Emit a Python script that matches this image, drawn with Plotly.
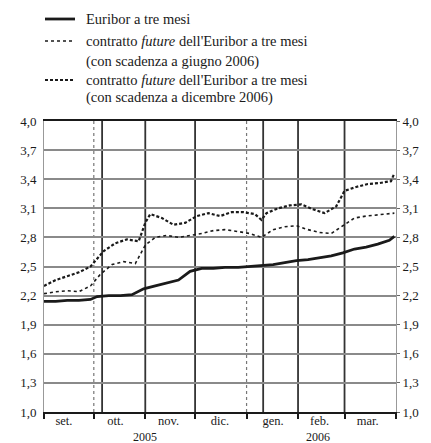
import plotly.graph_objects as go

# Euribor a tre mesi
euribor_dates = ['2005-09-01', '2005-09-08', '2005-09-15', '2005-09-22', '2005-09-29',
                 '2005-10-03', '2005-10-10', '2005-10-17', '2005-10-24', '2005-10-31',
                 '2005-11-07', '2005-11-14', '2005-11-21', '2005-11-28', '2005-12-05',
                 '2005-12-12', '2005-12-19', '2005-12-27', '2006-01-03', '2006-01-10',
                 '2006-01-17', '2006-01-24', '2006-01-31', '2006-02-07', '2006-02-14',
                 '2006-02-21', '2006-02-28', '2006-03-07', '2006-03-14', '2006-03-21',
                 '2006-03-28', '2006-03-31']
euribor_values = [2.14, 2.14, 2.15, 2.15, 2.16,
                  2.19, 2.20, 2.20, 2.21, 2.27,
                  2.30, 2.33, 2.36, 2.45, 2.48,
                  2.48, 2.49, 2.49, 2.50, 2.51,
                  2.52, 2.54, 2.56, 2.57, 2.59,
                  2.61, 2.64, 2.68, 2.70, 2.73,
                  2.77, 2.81]

# future con scadenza giugno 2006
jun_dates = ['2005-09-01', '2005-09-08', '2005-09-15', '2005-09-22', '2005-09-29',
             '2005-10-05', '2005-10-12', '2005-10-19', '2005-10-26', '2005-11-01',
             '2005-11-07', '2005-11-14', '2005-11-21', '2005-11-28', '2005-12-05',
             '2005-12-12', '2005-12-19', '2005-12-27', '2006-01-03', '2006-01-10',
             '2006-01-17', '2006-01-24', '2006-01-31', '2006-02-07', '2006-02-14',
             '2006-02-21', '2006-02-28', '2006-03-07', '2006-03-14', '2006-03-21',
             '2006-03-31']
jun_values = [2.22, 2.24, 2.25, 2.24, 2.30,
              2.42, 2.52, 2.55, 2.53, 2.72,
              2.80, 2.82, 2.80, 2.82, 2.84,
              2.87, 2.88, 2.86, 2.84, 2.80,
              2.88, 2.91, 2.92, 2.88, 2.85,
              2.84, 2.92, 3.00, 3.02, 3.03,
              3.05]

# future con scadenza dicembre 2006
dec_dates = ['2005-09-01', '2005-09-08', '2005-09-15', '2005-09-22', '2005-09-29',
             '2005-10-03', '2005-10-07', '2005-10-14', '2005-10-21', '2005-10-28',
             '2005-11-01', '2005-11-04', '2005-11-11', '2005-11-18', '2005-11-25',
             '2005-12-02', '2005-12-09', '2005-12-16', '2005-12-23', '2005-12-30',
             '2006-01-06', '2006-01-10', '2006-01-13', '2006-01-20', '2006-01-27',
             '2006-02-03', '2006-02-10', '2006-02-17', '2006-02-24', '2006-03-01',
             '2006-03-08', '2006-03-15', '2006-03-22', '2006-03-29', '2006-03-31']
dec_values = [2.30, 2.36, 2.40, 2.44, 2.50,
              2.58, 2.66, 2.74, 2.78, 2.76,
              2.95, 3.04, 3.00, 2.93, 2.95,
              3.02, 3.05, 3.02, 3.06, 3.06,
              3.04, 2.98, 3.05, 3.10, 3.13,
              3.14, 3.09, 3.05, 3.12, 3.28,
              3.32, 3.35, 3.36, 3.38, 3.46]

# etichette asse x
month_tick_dates = ['2005-09-13', '2005-10-14', '2005-11-15', '2005-12-16',
                    '2006-01-17', '2006-02-14', '2006-03-15']
month_labels = ['set.', 'ott.', 'nov.', 'dic.', 'gen.', 'feb.', 'mar.']
year_dates = ['2005-11-01', '2006-02-13']
year_labels = ['2005', '2006']

# linee verticali della griglia
grid_solid_dates = ['2005-10-06', '2005-11-01', '2005-12-01', '2006-01-11',
                    '2006-02-01', '2006-03-01']
grid_dotted_dates = ['2005-10-01', '2006-01-01']

y_ticks = [1.0, 1.3, 1.6, 1.9, 2.2, 2.5, 2.8, 3.1, 3.4, 3.7, 4.0]

# testi della legenda
legend_lines = [
    'Euribor a tre mesi',
    "contratto <i>future</i> dell'Euribor a tre mesi",
    '(con scadenza a giugno 2006)',
    "contratto <i>future</i> dell'Euribor a tre mesi",
    '(con scadenza a dicembre 2006)',
]

FONT = 'Liberation Serif'
INK = '#1a1a1a'

euribor_line = dict(color=INK, width=2.8)
jun_line = dict(color=INK, width=1.6, dash='dot')
dec_line = dict(color=INK, width=2.2, dash='3px,2px')

fig = go.Figure()

fig.add_trace(go.Scatter(x=euribor_dates, y=euribor_values, mode='lines',
                         name='Euribor a tre mesi', line=euribor_line))
fig.add_trace(go.Scatter(x=jun_dates, y=jun_values, mode='lines',
                         name='future giugno 2006', line=jun_line))
fig.add_trace(go.Scatter(x=dec_dates, y=dec_values, mode='lines',
                         name='future dicembre 2006', line=dec_line))
# traccia invisibile per l'asse destro
fig.add_trace(go.Scatter(
    x=euribor_dates, y=euribor_values, mode='lines', yaxis='y2',
    line=dict(color='rgba(0,0,0,0)'), hoverinfo='skip',
))

shapes = []
for d in grid_solid_dates:
    shapes.append(dict(type='line', xref='x', yref='paper', x0=d, x1=d, y0=0, y1=1,
                       line=dict(color='#333', width=1.8), layer='below'))
for d in grid_dotted_dates:
    shapes.append(dict(type='line', xref='x', yref='paper', x0=d, x1=d, y0=0, y1=1,
                       line=dict(color='#777', width=1.2, dash='dot'), layer='below'))

annotations = []
for d, t in zip(year_dates, year_labels):
    annotations.append(dict(x=d, y=0, xref='x', yref='paper', yshift=-25,
                            yanchor='middle', text=t, showarrow=False,
                            font=dict(family=FONT, size=12, color=INK)))

# legenda disegnata a mano sopra il grafico (offset in pixel dal bordo superiore)
row_offsets = [102, 80, 60, 41, 24]
for text, off in zip(legend_lines, row_offsets):
    annotations.append(dict(x=0, y=1, xref='paper', yref='paper', xshift=40,
                            yshift=off, xanchor='left', yanchor='middle',
                            text=text, showarrow=False,
                            font=dict(family=FONT, size=14.5, color=INK)))
for style, off in zip([euribor_line, jun_line, dec_line], [102, 80, 41]):
    shapes.append(dict(type='line', xref='paper', yref='paper',
                       xsizemode='pixel', ysizemode='pixel', xanchor=0, yanchor=1,
                       x0=1, x1=31, y0=off, y1=off, line=style))

# la pagina ha un margine di 8px: la figura è ridotta di conseguenza
fig.update_layout(
    width=423, height=435,
    margin=dict(l=34, r=30, t=113, b=31),
    paper_bgcolor='white', plot_bgcolor='white',
    separators=',.',
    font=dict(family=FONT, size=12, color=INK),
    showlegend=False,
    shapes=shapes,
    annotations=annotations,
    xaxis=dict(
        type='date', range=['2005-09-01', '2006-04-01'],
        tickvals=month_tick_dates, ticktext=month_labels, ticks='',
        ticklabelstandoff=-4,
        showgrid=False, showline=True, linecolor=INK, linewidth=2, mirror=True,
        minor=dict(ticks='outside', tick0='2005-09-01', dtick='M1', ticklen=5,
                   tickcolor=INK, tickwidth=1.5, showgrid=False),
        tickfont=dict(family=FONT, size=12.5, color=INK),
    ),
    yaxis=dict(
        range=[1.0, 4.0], tickvals=y_ticks, tickformat='.1f',
        showgrid=True, gridcolor='#8a8a8a', gridwidth=1.5,
        showline=True, linecolor='#999', linewidth=1, mirror=True,
        zeroline=False, ticks='', ticklabelstandoff=4,
        tickfont=dict(family=FONT, size=13, color=INK),
    ),
    yaxis2=dict(
        range=[1.0, 4.0], tickvals=y_ticks, tickformat='.1f',
        overlaying='y', side='right', showgrid=False, zeroline=False,
        ticks='outside', ticklen=3, tickcolor='#666',
        tickfont=dict(family=FONT, size=13, color=INK),
    ),
)

fig.write_html('out.html')
